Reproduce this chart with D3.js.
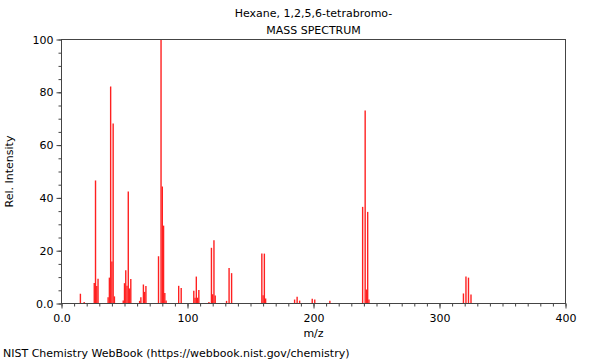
<!DOCTYPE html>
<html>
<head>
<meta charset="utf-8">
<script src="https://cdn.jsdelivr.net/npm/d3@7"></script>
<style>
  body { margin: 0; background: #fff; }
  text { font-family: "DejaVu Sans", sans-serif; fill: #000; }
</style>
</head>
<body>
<div id="chart"></div>
<script>
var mz = [15, 18, 26, 27, 28, 29, 37, 38, 39, 40, 41, 42, 49, 50, 51, 52, 53, 54, 55,
          62, 63, 65, 66, 67, 77, 79, 80, 81, 82, 83, 93, 95, 105, 106, 107, 108, 109,
          117, 119, 120, 121, 122, 131, 133, 135, 159, 160, 161, 162, 185, 187, 189,
          199, 201, 213, 239, 241, 242, 243, 244, 319, 321, 323, 325];
var intensity = [3.7, 0.6, 7.8, 46.6, 6.6, 9.4, 2.4, 9.8, 82.2, 15.9, 68.2, 2.7, 1.1, 7.7, 12.6, 6.7, 42.4, 5.7, 9.3,
                 1.0, 2.4, 7.2, 4.4, 6.6, 17.9, 100, 44.3, 29.5, 4.0, 1.1, 6.7, 5.9, 4.8, 2.2, 10.2, 2.2, 5.1,
                 0.6, 21.1, 3.5, 24.0, 3.0, 1.0, 13.4, 11.5, 18.9, 3.1, 18.9, 1.9, 1.5, 2.6, 1.1,
                 1.8, 1.5, 1.0, 36.6, 73.1, 5.3, 34.7, 1.5, 3.8, 10.2, 9.8, 3.4];
var xTicks = [0, 100, 200, 300, 400];
var yTicks = [0, 20, 40, 60, 80, 100];
var title = "Hexane, 1,2,5,6-tetrabromo-";
var subtitle = "MASS SPECTRUM";
var footer = "NIST Chemistry WebBook (https://webbook.nist.gov/chemistry)";

var width = 600, height = 360;
var plotLeft = 61.5, plotRight = 565.5, plotTop = 39.5, plotBottom = 303.5;
var axisColor = "#444";
var fontSize = 11;

var svg = d3.select("#chart").append("svg")
    .attr("width", width)
    .attr("height", height);

var x = d3.scaleLinear().domain([0, 400]).range([plotLeft, plotRight]);
var y = d3.scaleLinear().domain([0, 100]).range([plotBottom, plotTop]);

var fmt = function(d) { return d === 0 ? "0.0" : d; };

// peaks
svg.append("g").attr("class", "peaks").selectAll("line")
  .data(mz)
  .enter()
  .append("line")
  .attr("x1", function(d) { return x(d); })
  .attr("x2", function(d) { return x(d); })
  .attr("y1", y(0))
  .attr("y2", function(d, i) { return y(intensity[i]); })
  .attr("stroke", "#ff2020")
  .attr("stroke-width", 1.4);

// minor ticks
var xMinor = svg.append("g")
  .attr("transform", "translate(0," + plotBottom + ")")
  .call(d3.axisBottom(x).tickValues(d3.range(0, 401, 10)).tickSize(3).tickFormat(""));
var yMinor = svg.append("g")
  .attr("transform", "translate(" + plotLeft + ",0)")
  .call(d3.axisLeft(y).tickValues(d3.range(0, 101, 5)).tickSize(3).tickFormat(""));

// major ticks
var xAxis = svg.append("g")
  .attr("transform", "translate(0," + plotBottom + ")")
  .call(d3.axisBottom(x).tickValues(xTicks).tickSize(5).tickPadding(6).tickFormat(fmt));
var yAxis = svg.append("g")
  .attr("transform", "translate(" + plotLeft + ",0)")
  .call(d3.axisLeft(y).tickValues(yTicks).tickSize(5).tickPadding(3).tickFormat(fmt));

[xMinor, yMinor, xAxis, yAxis].forEach(function(g) {
  g.selectAll(".domain").remove();
  g.selectAll("line").attr("stroke", axisColor);
  g.selectAll("text").attr("font-family", "DejaVu Sans").attr("font-size", fontSize).attr("fill", "#000");
});

// frame
svg.append("rect")
  .attr("x", plotLeft).attr("y", plotTop)
  .attr("width", plotRight - plotLeft).attr("height", plotBottom - plotTop)
  .attr("fill", "none")
  .attr("stroke", axisColor);

svg.append("text")
  .attr("x", (plotLeft + plotRight) / 2).attr("y", 17)
  .attr("text-anchor", "middle").attr("font-size", fontSize)
  .text(title);
svg.append("text")
  .attr("x", (plotLeft + plotRight) / 2).attr("y", 34)
  .attr("text-anchor", "middle").attr("font-size", fontSize)
  .text(subtitle);

svg.append("text")
  .attr("x", (plotLeft + plotRight) / 2).attr("y", 337)
  .attr("text-anchor", "middle").attr("font-size", fontSize)
  .text("m/z");

svg.append("text")
  .attr("transform", "translate(13," + ((plotTop + plotBottom) / 2) + ") rotate(-90)")
  .attr("text-anchor", "middle").attr("font-size", fontSize)
  .text("Rel. Intensity");

svg.append("text")
  .attr("x", 3).attr("y", 357)
  .attr("font-size", fontSize)
  .text(footer);
</script>
</body>
</html>
